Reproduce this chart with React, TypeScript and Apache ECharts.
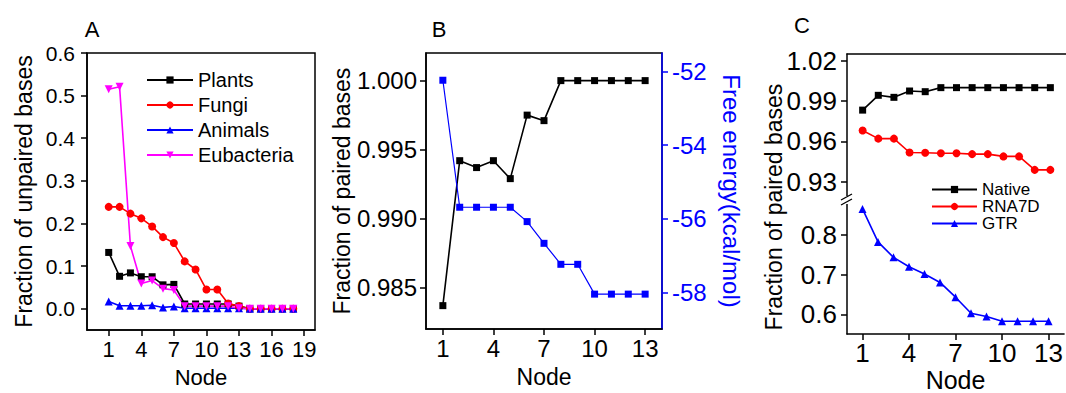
import React, { useEffect, useRef } from "react";
import * as echarts from "echarts";

const FONT = 'Arial, "Liberation Sans", Helvetica, sans-serif';

// Panel A
const nodesA = [1, 2, 3, 4, 5, 6, 7, 8, 9, 10, 11, 12, 13, 14, 15, 16, 17, 18];
const plants = [0.132, 0.076, 0.084, 0.075, 0.075, 0.056, 0.057, 0.011, 0.011, 0.011, 0.011, 0.011, 0.006, 0, 0, 0, 0, 0];
const fungi = [0.239, 0.239, 0.223, 0.212, 0.193, 0.168, 0.154, 0.111, 0.092, 0.045, 0.045, 0.012, 0.006, 0, 0, 0, 0, 0];
const animals = [0.017, 0.007, 0.007, 0.007, 0.008, 0.003, 0.005, 0.001, 0.001, 0.001, 0.001, 0.001, 0.001, 0, 0, 0, 0, 0];
const eubacteria = [0.515, 0.521, 0.147, 0.059, 0.066, 0.047, 0.044, 0.006, 0.006, 0.006, 0.006, 0.006, 0.001, 0, 0, 0, 0, 0];
const ticksAx = [1, 4, 7, 10, 13, 16, 19];
const ticksAy = [0, 0.1, 0.2, 0.3, 0.4, 0.5, 0.6];

// Panel B
const nodesB = [1, 2, 3, 4, 5, 6, 7, 8, 9, 10, 11, 12, 13];
const pairedB = [0.9837, 0.9942, 0.9937, 0.9942, 0.9929, 0.9975, 0.9971, 1.0, 1.0, 1.0, 1.0, 1.0, 1.0];
const energyB = [-52.24, -55.69, -55.69, -55.69, -55.69, -56.08, -56.67, -57.24, -57.24, -58.05, -58.05, -58.05, -58.05];
const ticksBx = [1, 4, 7, 10, 13];
const ticksBy = [0.985, 0.99, 0.995, 1.0];
const ticksBy2 = [-58, -56, -54, -52];

// Panel C
const nodesC = [1, 2, 3, 4, 5, 6, 7, 8, 9, 10, 11, 12, 13];
const nativeC = [0.9833, 0.9943, 0.9928, 0.9975, 0.997, 1.0, 1.0, 1.0, 1.0, 1.0, 1.0, 1.0, 1.0];
const rna7dC = [0.9681, 0.9621, 0.9621, 0.9518, 0.9516, 0.9513, 0.9513, 0.9506, 0.9506, 0.9489, 0.9489, 0.9389, 0.9389];
const gtrC = [0.8656, 0.7823, 0.7434, 0.7198, 0.7013, 0.6802, 0.643, 0.6024, 0.5944, 0.5822, 0.5822, 0.5822, 0.5822];
const ticksCx = [1, 4, 7, 10, 13];
const ticksCyTop = [0.93, 0.96, 0.99, 1.02];
const ticksCyBottom = [0.6, 0.7, 0.8];

const pairs = (xs: number[], ys: number[]) => xs.map((x, i) => [x, ys[i]]);

const BLACK = "#000000";
const RED = "#ff0000";
const BLUE = "#0000ff";
const MAGENTA = "#ff00ff";

const lineSeries = (
  name: string,
  data: number[][],
  color: string,
  symbol: string,
  size: number,
  xi: number,
  yi: number,
  extra: any = {}
) => ({
  name,
  type: "line",
  data,
  xAxisIndex: xi,
  yAxisIndex: yi,
  symbol,
  symbolSize: size,
  showAllSymbol: true,
  itemStyle: { color },
  lineStyle: { color, width: 1.6 },
  emphasis: { disabled: true },
  ...extra,
});

const axLine = (color = BLACK) => ({ show: true, onZero: false, lineStyle: { color, width: 1.5 } });

export default function App() {
  const ref = useRef<HTMLDivElement>(null);
  useEffect(() => {
    if (!ref.current) return;
    const chart = echarts.init(ref.current, undefined, { renderer: "svg" });
    const labelStyle = (size: number, color = BLACK) => ({ fontSize: size, color, fontFamily: FONT });
    const option: any = {
      animation: false,
      backgroundColor: "#ffffff",
      textStyle: { fontFamily: FONT },
      grid: [
        { left: 87, top: 53, width: 228, height: 288, show: true, borderColor: BLACK, borderWidth: 1.5, backgroundColor: "transparent" },
        { left: 426, top: 53, width: 236, height: 288, show: true, borderColor: BLACK, borderWidth: 1.5, backgroundColor: "transparent" },
        { left: 847, top: 54, width: 225, height: 144 },
        { left: 847, top: 200, width: 225, height: 141 },
      ],
      xAxis: [
        {
          gridIndex: 0, type: "value", min: -1, max: 20,
          axisLine: axLine(),
          axisTick: { show: true, length: 6, customValues: ticksAx, lineStyle: { color: BLACK, width: 1.5 } },
          axisLabel: { ...labelStyle(22), margin: 8, customValues: ticksAx },
          splitLine: { show: false },
          name: "Node", nameLocation: "middle", nameGap: 36,
          nameTextStyle: labelStyle(22),
        },
        {
          gridIndex: 1, type: "value", min: 0, max: 14,
          axisLine: axLine(),
          axisTick: { show: true, length: 6, customValues: ticksBx, lineStyle: { color: BLACK, width: 1.5 } },
          axisLabel: { ...labelStyle(24), margin: 7, customValues: ticksBx },
          splitLine: { show: false },
          name: "Node", nameLocation: "middle", nameGap: 35,
          nameTextStyle: labelStyle(23),
        },
        {
          gridIndex: 2, type: "value", min: 0, max: 14, position: "top",
          axisLine: axLine(),
          axisTick: { show: false },
          axisLabel: { show: false },
          splitLine: { show: false },
        },
        {
          gridIndex: 3, type: "value", min: 0, max: 14,
          axisLine: axLine(),
          axisTick: { show: true, length: 6, customValues: ticksCx, lineStyle: { color: BLACK, width: 1.5 } },
          axisLabel: { ...labelStyle(26), margin: 6, customValues: ticksCx },
          splitLine: { show: false },
          name: "Node", nameLocation: "middle", nameGap: 32,
          nameTextStyle: labelStyle(25),
        },
      ],
      yAxis: [
        {
          gridIndex: 0, type: "value", min: -0.05, max: 0.6,
          axisLine: axLine(),
          axisTick: { show: true, length: 6, customValues: ticksAy, lineStyle: { color: BLACK, width: 1.5 } },
          axisLabel: { ...labelStyle(21), margin: 12, customValues: ticksAy, formatter: (v: number) => v.toFixed(1) },
          splitLine: { show: false },
          name: "Fraction of unpaired bases", nameLocation: "middle", nameGap: 52,
          nameTextStyle: labelStyle(23),
        },
        {
          gridIndex: 1, type: "value", min: 0.982, max: 1.002,
          axisLine: axLine(),
          axisTick: { show: true, length: 6, customValues: ticksBy, lineStyle: { color: BLACK, width: 1.5 } },
          axisLabel: { ...labelStyle(24), margin: 9, customValues: ticksBy, formatter: (v: number) => v.toFixed(3) },
          splitLine: { show: false },
          name: "Fraction of paired bases", nameLocation: "middle", nameGap: 73,
          nameTextStyle: labelStyle(23),
        },
        {
          gridIndex: 1, type: "value", position: "right", min: -59, max: -51.5,
          axisLine: axLine(BLUE),
          axisTick: { show: true, length: 6, customValues: ticksBy2, lineStyle: { color: BLUE, width: 1.5 } },
          axisLabel: { ...labelStyle(24, BLUE), margin: 10, customValues: ticksBy2 },
          splitLine: { show: false },
          name: "Free energy(kcal/mol)", nameLocation: "middle", nameGap: 57, nameRotate: -90,
          nameTextStyle: labelStyle(24, BLUE),
        },
        {
          gridIndex: 2, type: "value", min: 0.918, max: 1.025,
          axisLine: axLine(),
          axisTick: { show: true, length: 6, customValues: ticksCyTop, lineStyle: { color: BLACK, width: 1.5 } },
          axisLabel: { ...labelStyle(26), margin: 10, customValues: ticksCyTop, formatter: (v: number) => v.toFixed(2) },
          splitLine: { show: false },
        },
        {
          gridIndex: 3, type: "value", min: 0.55, max: 0.888,
          axisLine: axLine(),
          axisTick: { show: true, length: 6, customValues: ticksCyBottom, lineStyle: { color: BLACK, width: 1.5 } },
          axisLabel: { ...labelStyle(26), margin: 10, customValues: ticksCyBottom, formatter: (v: number) => v.toFixed(1) },
          splitLine: { show: false },
        },
      ],
      legend: [
        {
          data: ["Plants", "Fungi", "Animals", "Eubacteria"],
          orient: "vertical", left: 146, top: 70, padding: 0,
          itemWidth: 46, itemHeight: 9, itemGap: 5, selectedMode: false,
          textStyle: { fontSize: 20, color: BLACK, fontFamily: FONT },
        },
        {
          data: ["Native", "RNA7D", "GTR"],
          orient: "vertical", left: 931, top: 181, padding: 0,
          itemWidth: 45, itemHeight: 9, itemGap: 0, selectedMode: false,
          textStyle: { fontSize: 17, color: BLACK, fontFamily: FONT },
        },
      ],
      series: [
        lineSeries("Plants", pairs(nodesA, plants), BLACK, "rect", 7, 0, 0),
        lineSeries("Fungi", pairs(nodesA, fungi), RED, "circle", 8, 0, 0),
        lineSeries("Animals", pairs(nodesA, animals), BLUE, "triangle", 8, 0, 0),
        lineSeries("Eubacteria", pairs(nodesA, eubacteria), MAGENTA, "triangle", 8, 0, 0, { symbolRotate: 180 }),
        lineSeries("Paired fraction", pairs(nodesB, pairedB), BLACK, "rect", 7, 1, 1),
        lineSeries("Free energy", pairs(nodesB, energyB), BLUE, "rect", 7, 1, 2, { lineStyle: { color: BLUE, width: 1.2 } }),
        lineSeries("Native", pairs(nodesC, nativeC), BLACK, "rect", 7, 2, 3),
        lineSeries("RNA7D", pairs(nodesC, rna7dC), RED, "circle", 8, 2, 3),
        lineSeries("GTR", pairs(nodesC, gtrC), BLUE, "triangle", 8, 3, 4),
      ],
      graphic: [
        { type: "text", x: 92, y: 29, style: { text: "A", fontSize: 22, fill: BLACK, fontFamily: FONT, align: "center", verticalAlign: "middle" } },
        { type: "text", x: 439, y: 29, style: { text: "B", fontSize: 22, fill: BLACK, fontFamily: FONT, align: "center", verticalAlign: "middle" } },
        { type: "text", x: 802, y: 25, style: { text: "C", fontSize: 22, fill: BLACK, fontFamily: FONT, align: "center", verticalAlign: "middle" } },
        {
          type: "text", x: 774, y: 207, rotation: Math.PI / 2,
          style: { text: "Fraction of paired bases", fontSize: 23, fill: BLACK, fontFamily: FONT, align: "center", verticalAlign: "middle" },
        },
        { type: "rect", shape: { x: 844, y: 196, width: 6, height: 8 }, style: { fill: "#ffffff" }, z: 100 },
        { type: "line", shape: { x1: 841, y1: 200, x2: 852, y2: 194 }, style: { stroke: BLACK, lineWidth: 1.3 }, z: 101 },
        { type: "line", shape: { x1: 841, y1: 205, x2: 852, y2: 199 }, style: { stroke: BLACK, lineWidth: 1.3 }, z: 101 },
      ],
    };
    chart.setOption(option);
    return () => chart.dispose();
  }, []);
  return <div ref={ref} style={{ position: "absolute", left: 0, top: 0, width: 1066, height: 393 }} />;
}
